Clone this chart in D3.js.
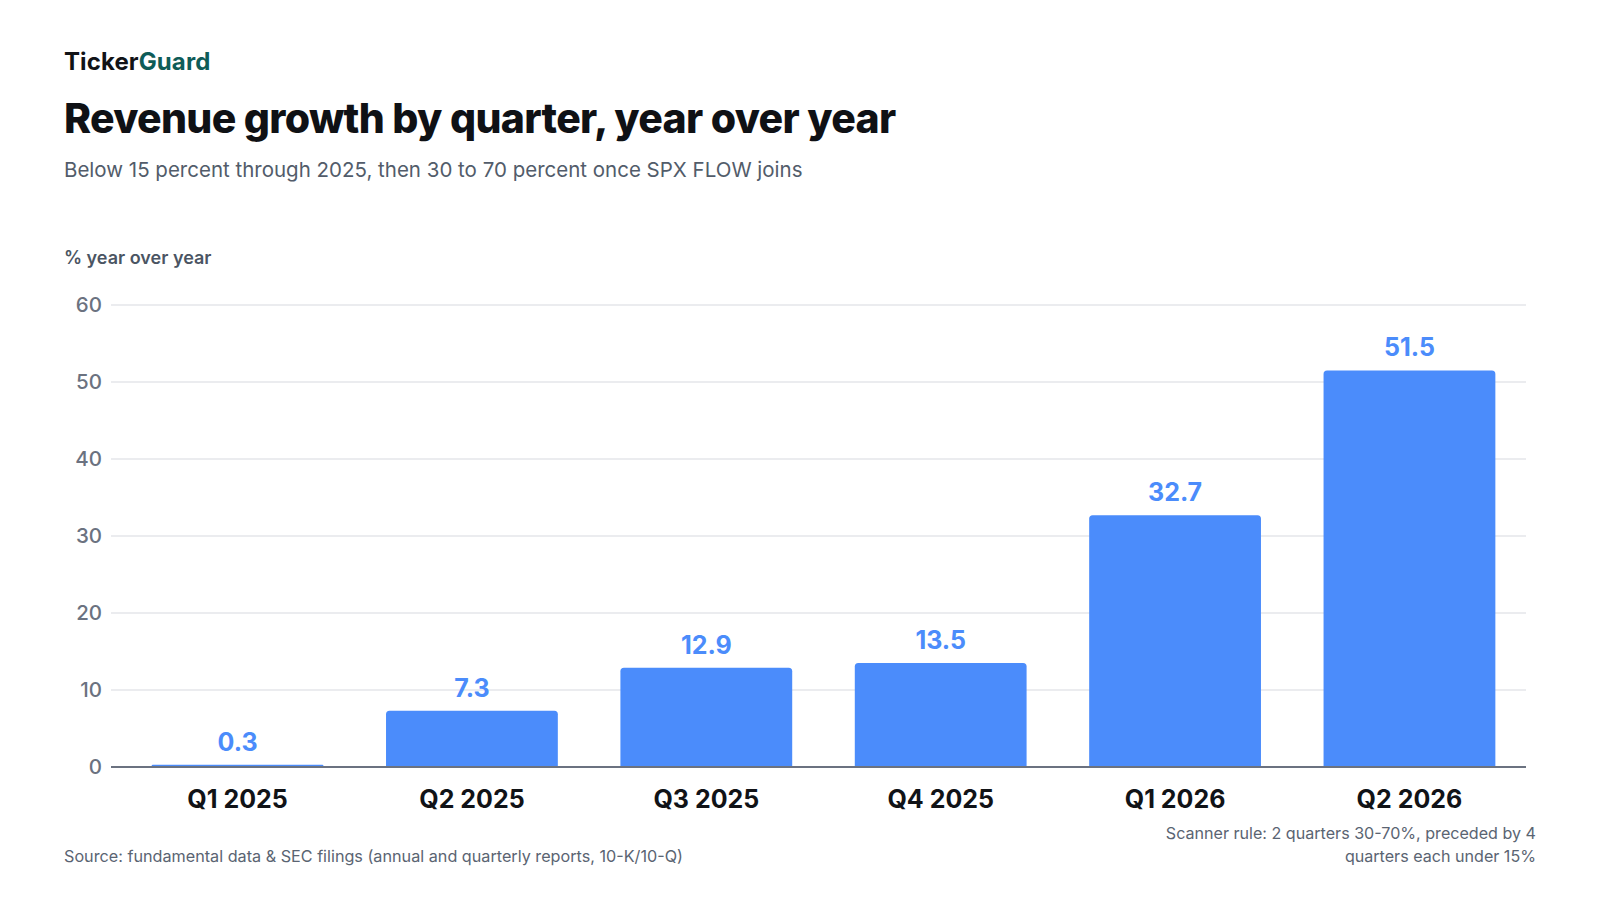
<!DOCTYPE html>
<html>
<head>
<meta charset="utf-8">
<script src="https://cdn.jsdelivr.net/npm/d3@7/dist/d3.min.js"></script>
<style>
  html, body { margin: 0; padding: 0; background: #fff; }
  svg { display: block; font-family: Inter, "Noto Sans", sans-serif; }
</style>
</head>
<body>
<svg id="main-svg" width="1600" height="900"></svg>
<script>
// chart data
var quarters = ['Q1 2025', 'Q2 2025', 'Q3 2025', 'Q4 2025', 'Q1 2026', 'Q2 2026']
var growth = [0.3, 7.3, 12.9, 13.5, 32.7, 51.5]
var yTicks = [0, 10, 20, 30, 40, 50, 60]

var barColor = '#4b8cfb'
var svg = d3.select('#main-svg')

// header
var brand = svg.append('text').attr('x', 64).attr('y', 70)
    .attr('font-size', 24).attr('font-weight', 700).attr('letter-spacing', 0.1)
brand.append('tspan').attr('fill', '#111317').text('Ticker')
brand.append('tspan').attr('fill', '#0e5c58').text('Guard')

svg.append('text').attr('x', 64).attr('y', 133)
    .attr('font-size', 41).attr('font-weight', 800).attr('letter-spacing', -0.7)
    .attr('fill', '#0f1115')
    .text('Revenue growth by quarter, year over year')

svg.append('text').attr('x', 64).attr('y', 177)
    .attr('font-size', 20.5).attr('fill', '#525c6a')
    .text('Below 15 percent through 2025, then 30 to 70 percent once SPX FLOW joins')

svg.append('text').attr('x', 64).attr('y', 264)
    .attr('font-size', 18).attr('font-weight', 600).attr('fill', '#4b5563')
    .text('% year over year')

// scales
var x = d3.scaleBand().domain(quarters).range([120, 1527]).paddingInner(0.267).paddingOuter(0.135)
var y = d3.scaleLinear().domain([0, 60]).range([767, 305])

// gridlines + y labels
var yAxis = svg.append('g')
yAxis.selectAll('line').data(yTicks.filter(function(d) { return d > 0 })).enter().append('line')
    .attr('x1', 111).attr('x2', 1526)
    .attr('y1', function(d) { return y(d) }).attr('y2', function(d) { return y(d) })
    .attr('stroke', '#e4e6ea').attr('stroke-width', 1.5)
yAxis.selectAll('text').data(yTicks).enter().append('text')
    .attr('x', 102).attr('y', function(d) { return y(d) })
    .attr('dy', '0.36em').attr('text-anchor', 'end')
    .attr('font-size', 20.5).attr('font-weight', 500).attr('fill', '#6b7280')
    .text(function(d) { return d })

// bars with rounded tops
function barPath(x0, w, yTop, yBase, r) {
    r = Math.min(r, (yBase - yTop) / 2, w / 2)
    return 'M' + x0 + ',' + yBase +
        'V' + (yTop + r) +
        'Q' + x0 + ',' + yTop + ' ' + (x0 + r) + ',' + yTop +
        'H' + (x0 + w - r) +
        'Q' + (x0 + w) + ',' + yTop + ' ' + (x0 + w) + ',' + (yTop + r) +
        'V' + yBase + 'Z'
}

var bars = svg.append('g')
bars.selectAll('path').data(growth).enter().append('path')
    .attr('d', function(d, i) { return barPath(x(quarters[i]), x.bandwidth(), y(d), y(0), 3.5) })
    .attr('fill', barColor)

bars.selectAll('text').data(growth).enter().append('text')
    .attr('x', function(d, i) { return x(quarters[i]) + x.bandwidth() / 2 })
    .attr('y', function(d) { return y(d) - 14 })
    .attr('text-anchor', 'middle')
    .attr('font-size', 25).attr('font-weight', 700).attr('fill', barColor)
    .text(function(d) { return d.toFixed(1) })

// zero line
svg.append('line').attr('x1', 111).attr('x2', 1526).attr('y1', y(0)).attr('y2', y(0))
    .attr('stroke', '#6b7280').attr('stroke-width', 2)

// x labels
var xAxis = d3.axisBottom(x).tickSize(0).tickPadding(0)
var gx = svg.append('g').attr('transform', 'translate(0,' + 808 + ')').call(xAxis)
gx.select('.domain').remove()
gx.selectAll('text')
    .attr('dy', 0).attr('y', 0)
    .attr('font-family', 'Inter, "Noto Sans", sans-serif')
    .attr('font-size', 25).attr('font-weight', 700).attr('fill', '#111317')

// footer
svg.append('text').attr('x', 64).attr('y', 862)
    .attr('font-size', 16.2).attr('fill', '#5a6472')
    .text('Source: fundamental data & SEC filings (annual and quarterly reports, 10-K/10-Q)')

var note = svg.append('text').attr('text-anchor', 'end')
    .attr('font-size', 16.1).attr('fill', '#5a6472')
note.append('tspan').attr('x', 1536).attr('y', 839).text('Scanner rule: 2 quarters 30-70%, preceded by 4')
note.append('tspan').attr('x', 1536).attr('y', 862).text('quarters each under 15%')
</script>
</body>
</html>
